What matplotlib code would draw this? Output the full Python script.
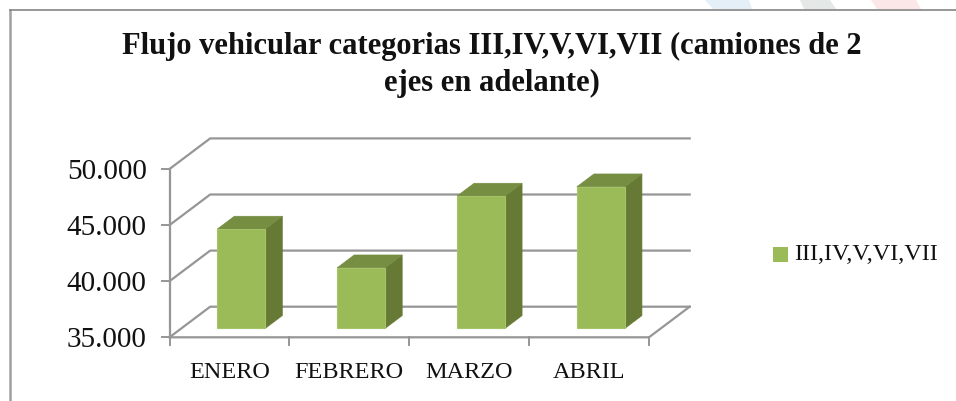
import matplotlib
matplotlib.use('Agg')
import matplotlib.pyplot as plt
from matplotlib.patches import Polygon, Rectangle

#datos
meses = ['ENERO', 'FEBRERO', 'MARZO', 'ABRIL']
flujo = [43850, 40400, 46790, 47620]
ticks_y = [35000, 40000, 45000, 50000]
etiquetas_y = ['35.000', '40.000', '45.000', '50.000']
serie = 'III,IV,V,VI,VII'
titulo = 'Flujo vehicular categorias III,IV,V,VI,VII (camiones de 2\nejes en adelante)'

W, H = 956, 401
fuente = ['Liberation Serif', 'DejaVu Serif']
gris = '#969696'

fig = plt.figure(figsize=(W / 100, H / 100), dpi=100)
fondo = fig.add_axes([0, 0, 1, 1], zorder=0)
fondo.set_xlim(0, W)
fondo.set_ylim(H, 0)
fondo.axis('off')

#restos de la marca de agua arriba
fondo.add_patch(Polygon([(705, 0), (749, 0), (752, 9), (713, 9)], fc='#e4eff7', ec='none'))
fondo.add_patch(Polygon([(800, 0), (830, 0), (836, 9), (804, 9)], fc='#e4e9e7', ec='none'))
fondo.add_patch(Polygon([(871, 0), (916, 0), (921, 9), (877, 9)], fc='#fbe7e7', ec='none'))

#marco del documento
fondo.plot([10.5, 10.5], [H, 9.5], color='#a0a0a0', lw=1.8)
fondo.plot([10.5, W], [9.5, 9.5], color='#858585', lw=1.2)

#plano frontal del grafico
ax = fig.add_axes([169.5 / W, 1 - 337.3 / H, 479.5 / W, 168.3 / H], zorder=1)
ax.set_xlim(0, len(meses))
ax.set_ylim(ticks_y[0], ticks_y[-1])
ax.axis('off')

#profundidad en unidades de los ejes (x categorias, y valores)
prof_x = 40.7 / 119.9
prof_y = 30.6 / 56.1 * 5000
base = ticks_y[0]

for t in ticks_y:
    ax.plot([0, prof_x, len(meses) + prof_x], [t, t + prof_y, t + prof_y],
            color=gris, lw=1.6, clip_on=False, zorder=1)
ax.plot([0, 0], [ticks_y[0], ticks_y[-1]], color=gris, lw=1.6, clip_on=False, zorder=1)
ax.plot([0, len(meses), len(meses) + prof_x], [base, base, base + prof_y],
        color=gris, lw=1.6, clip_on=False, zorder=1)

#marcas de los ejes
for i in range(len(meses) + 1):
    ax.plot([i, i], [base, base - 700], color=gris, lw=1.4, clip_on=False, zorder=1)
for t, etiqueta in zip(ticks_y, etiquetas_y):
    ax.plot([-0.064, 0], [t, t], color=gris, lw=1.4, clip_on=False, zorder=1)
    ax.text(-0.19, t - 280, etiqueta, ha='right', va='center',
            fontsize=21, family=fuente, color='#111111')

#barras 3D: cara frontal, lateral y superior
ancho = 0.4
desde = 0.29
fondo_barra = 0.42
for i, v in enumerate(flujo):
    x0 = i + 0.5 - ancho / 2 + desde * prof_x
    x1 = x0 + ancho
    y0 = base + desde * prof_y
    y1 = v + desde * prof_y
    dx = fondo_barra * prof_x
    dy = fondo_barra * prof_y
    ax.add_patch(Polygon([(x1, y0), (x1 + dx, y0 + dy), (x1 + dx, y1 + dy), (x1, y1)],
                         fc='#667a36', ec='#667a36', lw=0.5, clip_on=False, zorder=3))
    ax.add_patch(Polygon([(x0, y1), (x0 + dx, y1 + dy), (x1 + dx, y1 + dy), (x1, y1)],
                         fc='#768e42', ec='#768e42', lw=0.5, clip_on=False, zorder=3))
    ax.add_patch(Rectangle((x0, y0), ancho, v - base, fc='#9bbb59', ec='#a5c46a',
                           lw=0.8, clip_on=False, zorder=4))

    ax.text(i + 0.5, base - 3100, meses[i], ha='center', va='center',
            fontsize=17.5, family=fuente, color='#111111')

#leyenda
fondo.add_patch(Rectangle((773, 247), 15, 15, fc='#9bbb59', ec='none'))
fondo.text(794, 254.5, serie, ha='left', va='center', fontsize=17.5, family=fuente,
           color='#111111')

fig.text(492 / W, 1 - 65 / H, titulo, ha='center', va='center', fontsize=22,
         family=fuente, fontweight='bold', linespacing=1.33, color='#111111')

fig.savefig('out.png', dpi=100)
